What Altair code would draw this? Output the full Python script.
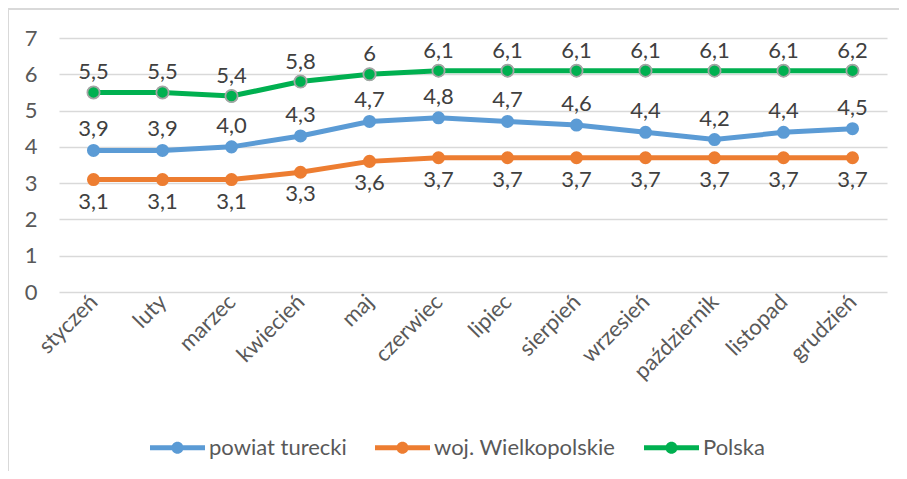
import altair as alt
import pandas as pd

months = ["styczeń", "luty", "marzec", "kwiecień", "maj", "czerwiec", "lipiec",
          "sierpień", "wrzesień", "październik", "listopad", "grudzień"]
series_names = ["powiat turecki", "woj. Wielkopolskie", "Polska"]

powiat = [3.9, 3.9, 4.0, 4.3, 4.7, 4.8, 4.7, 4.6, 4.4, 4.2, 4.4, 4.5]
woj = [3.1, 3.1, 3.1, 3.3, 3.6, 3.7, 3.7, 3.7, 3.7, 3.7, 3.7, 3.7]
polska = [5.5, 5.5, 5.4, 5.8, 6.0, 6.1, 6.1, 6.1, 6.1, 6.1, 6.1, 6.1]

powiat_labels = ["3,9", "3,9", "4,0", "4,3", "4,7", "4,8", "4,7", "4,6", "4,4", "4,2", "4,4", "4,5"]
woj_labels = ["3,1", "3,1", "3,1", "3,3", "3,6", "3,7", "3,7", "3,7", "3,7", "3,7", "3,7", "3,7"]
polska_labels = ["5,5", "5,5", "5,4", "5,8", "6", "6,1", "6,1", "6,1", "6,1", "6,1", "6,1", "6,2"]

colors = ["#5B9BD5", "#ED7D31", "#00B050"]

rows = []
for name, vals, labs in zip(series_names, [powiat, woj, polska],
                            [powiat_labels, woj_labels, polska_labels]):
    for m, v, l in zip(months, vals, labs):
        rows.append({"month": m, "series": name, "value": v, "label": l})
df = pd.DataFrame(rows)

FONT = "Lato"
TXT = "#595959"
FS = 22

x_enc = alt.X("month:N", sort=months, title=None,
              scale=alt.Scale(type="point", padding=0.5),
              axis=alt.Axis(labelAngle=-45, labelAlign="right", labelBaseline="middle",
                            labelFontSize=FS, labelColor=TXT,
                            labelFont=FONT, domain=False, ticks=False,
                            labelPadding=6, grid=False))
y_enc = alt.Y("value:Q", title=None,
              scale=alt.Scale(domain=[0, 7], nice=False),
              axis=alt.Axis(values=list(range(8)), labelFontSize=FS, labelColor=TXT,
                            labelFont=FONT, domain=False, ticks=False, labelPadding=22,
                            grid=True, gridColor="#D9D9D9", gridWidth=1.3))

color_scale = alt.Scale(domain=series_names, range=colors)

path = ("M-1,-0.09H-0.2V0.09H-1Z M0.2,-0.09H1V0.09H0.2Z "
        "M-0.22,0A0.22,0.22 0 1 1 0.22,0A0.22,0.22 0 1 1 -0.22,0Z")

legend = alt.Legend(title=None, orient="none", legendX=91, legendY=382,
                    direction="horizontal", columns=3,
                    symbolType=path, symbolSize=3025,
                    symbolStrokeWidth=0, symbolOpacity=1, labelFontSize=FS,
                    labelFont=FONT, labelColor=TXT, labelLimit=400,
                    columnPadding=28, labelOffset=4, padding=0)

base = alt.Chart(df)

border = alt.Chart(df).mark_rect(fillOpacity=0, stroke="#D9D9D9", strokeWidth=1.5).encode(
    x=alt.value(-51), x2=alt.value(1200), y=alt.value(-29), y2=alt.value(800)
)

lines = base.mark_line(strokeWidth=5).encode(
    x=x_enc, y=y_enc,
    color=alt.Color("series:N", scale=color_scale, legend=legend),
    detail="series:N",
)

points = base.mark_circle(size=170, opacity=1).encode(
    x=x_enc, y=y_enc,
    color=alt.Color("series:N", scale=color_scale, legend=legend),
)

pol_points = base.transform_filter(alt.datum.series == "Polska").mark_circle(
    size=150, opacity=1, color="#00B050", stroke="#A5A5A5", strokeWidth=1.8
).encode(x=x_enc, y=y_enc)

def labels(name, dy):
    return base.transform_filter(alt.datum.series == name).mark_text(
        dy=dy, fontSize=FS, font=FONT, color="#404040"
    ).encode(x=x_enc, y=y_enc, text="label:N")

chart = alt.layer(
    border, lines, points, pol_points,
    labels("powiat turecki", -21), labels("woj. Wielkopolskie", 22), labels("Polska", -20),
).properties(
    width=828, height=254,
    autosize=alt.AutoSizeParams(type="none"),
    padding={"left": 51, "top": 30, "right": 12, "bottom": 179},
).configure_view(stroke=None)

chart.save("out.html", embed_options={"renderer": "svg", "actions": False})
